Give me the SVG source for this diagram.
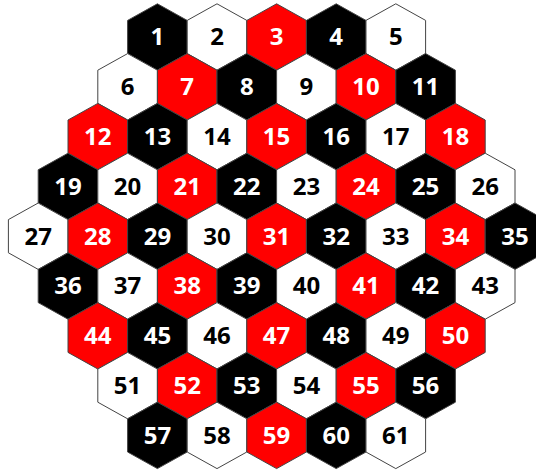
<svg xmlns="http://www.w3.org/2000/svg" xmlns:xlink="http://www.w3.org/1999/xlink" width="536" height="470" viewBox="0 0 536 470">
<defs>
<style>
.hx use{stroke:#444;stroke-width:1}
.b use{fill:#000}.r use{fill:#ff0000}.w use{fill:#fff}
text{font-family:"Open Sans","DejaVu Sans",sans-serif;font-weight:bold;font-size:24px;text-anchor:middle}
.b text,.r text{fill:#fff}.w text{fill:#000}
</style>
<polygon id="hex" points="0,-33.2 29.8,-16.6 29.8,16.6 0,33.2 -29.8,16.6 -29.8,-16.6"/>
</defs>
<rect width="536" height="470" fill="#fff"/>
<g id="connectors"/>
<g class="hx">
<g id="h1" class="b"><use href="#hex" x="157.4" y="37"/><text x="157.4" y="45.3">1</text></g>
<g id="h2" class="w"><use href="#hex" x="217" y="37"/><text x="217" y="45.3">2</text></g>
<g id="h3" class="r"><use href="#hex" x="276.6" y="37"/><text x="276.6" y="45.3">3</text></g>
<g id="h4" class="b"><use href="#hex" x="336.2" y="37"/><text x="336.2" y="45.3">4</text></g>
<g id="h5" class="w"><use href="#hex" x="395.8" y="37"/><text x="395.8" y="45.3">5</text></g>

<g id="h6" class="w"><use href="#hex" x="127.6" y="86.8"/><text x="127.6" y="95.1">6</text></g>
<g id="h7" class="r"><use href="#hex" x="187.2" y="86.8"/><text x="187.2" y="95.1">7</text></g>
<g id="h8" class="b"><use href="#hex" x="246.8" y="86.8"/><text x="246.8" y="95.1">8</text></g>
<g id="h9" class="w"><use href="#hex" x="306.4" y="86.8"/><text x="306.4" y="95.1">9</text></g>
<g id="h10" class="r"><use href="#hex" x="366" y="86.8"/><text x="366" y="95.1">10</text></g>
<g id="h11" class="b"><use href="#hex" x="425.6" y="86.8"/><text x="425.6" y="95.1">11</text></g>

<g id="h12" class="r"><use href="#hex" x="97.8" y="136.6"/><text x="97.8" y="144.9">12</text></g>
<g id="h13" class="b"><use href="#hex" x="157.4" y="136.6"/><text x="157.4" y="144.9">13</text></g>
<g id="h14" class="w"><use href="#hex" x="217" y="136.6"/><text x="217" y="144.9">14</text></g>
<g id="h15" class="r"><use href="#hex" x="276.6" y="136.6"/><text x="276.6" y="144.9">15</text></g>
<g id="h16" class="b"><use href="#hex" x="336.2" y="136.6"/><text x="336.2" y="144.9">16</text></g>
<g id="h17" class="w"><use href="#hex" x="395.8" y="136.6"/><text x="395.8" y="144.9">17</text></g>
<g id="h18" class="r"><use href="#hex" x="455.4" y="136.6"/><text x="455.4" y="144.9">18</text></g>

<g id="h19" class="b"><use href="#hex" x="68" y="186.4"/><text x="68" y="194.7">19</text></g>
<g id="h20" class="w"><use href="#hex" x="127.6" y="186.4"/><text x="127.6" y="194.7">20</text></g>
<g id="h21" class="r"><use href="#hex" x="187.2" y="186.4"/><text x="187.2" y="194.7">21</text></g>
<g id="h22" class="b"><use href="#hex" x="246.8" y="186.4"/><text x="246.8" y="194.7">22</text></g>
<g id="h23" class="w"><use href="#hex" x="306.4" y="186.4"/><text x="306.4" y="194.7">23</text></g>
<g id="h24" class="r"><use href="#hex" x="366" y="186.4"/><text x="366" y="194.7">24</text></g>
<g id="h25" class="b"><use href="#hex" x="425.6" y="186.4"/><text x="425.6" y="194.7">25</text></g>
<g id="h26" class="w"><use href="#hex" x="485.2" y="186.4"/><text x="485.2" y="194.7">26</text></g>

<g id="h27" class="w"><use href="#hex" x="38.2" y="236.2"/><text x="38.2" y="244.5">27</text></g>
<g id="h28" class="r"><use href="#hex" x="97.8" y="236.2"/><text x="97.8" y="244.5">28</text></g>
<g id="h29" class="b"><use href="#hex" x="157.4" y="236.2"/><text x="157.4" y="244.5">29</text></g>
<g id="h30" class="w"><use href="#hex" x="217" y="236.2"/><text x="217" y="244.5">30</text></g>
<g id="h31" class="r"><use href="#hex" x="276.6" y="236.2"/><text x="276.6" y="244.5">31</text></g>
<g id="h32" class="b"><use href="#hex" x="336.2" y="236.2"/><text x="336.2" y="244.5">32</text></g>
<g id="h33" class="w"><use href="#hex" x="395.8" y="236.2"/><text x="395.8" y="244.5">33</text></g>
<g id="h34" class="r"><use href="#hex" x="455.4" y="236.2"/><text x="455.4" y="244.5">34</text></g>
<g id="h35" class="b"><use href="#hex" x="515" y="236.2"/><text x="515" y="244.5">35</text></g>

<g id="h36" class="b"><use href="#hex" x="68" y="286"/><text x="68" y="294.3">36</text></g>
<g id="h37" class="w"><use href="#hex" x="127.6" y="286"/><text x="127.6" y="294.3">37</text></g>
<g id="h38" class="r"><use href="#hex" x="187.2" y="286"/><text x="187.2" y="294.3">38</text></g>
<g id="h39" class="b"><use href="#hex" x="246.8" y="286"/><text x="246.8" y="294.3">39</text></g>
<g id="h40" class="w"><use href="#hex" x="306.4" y="286"/><text x="306.4" y="294.3">40</text></g>
<g id="h41" class="r"><use href="#hex" x="366" y="286"/><text x="366" y="294.3">41</text></g>
<g id="h42" class="b"><use href="#hex" x="425.6" y="286"/><text x="425.6" y="294.3">42</text></g>
<g id="h43" class="w"><use href="#hex" x="485.2" y="286"/><text x="485.2" y="294.3">43</text></g>

<g id="h44" class="r"><use href="#hex" x="97.8" y="335.8"/><text x="97.8" y="344.1">44</text></g>
<g id="h45" class="b"><use href="#hex" x="157.4" y="335.8"/><text x="157.4" y="344.1">45</text></g>
<g id="h46" class="w"><use href="#hex" x="217" y="335.8"/><text x="217" y="344.1">46</text></g>
<g id="h47" class="r"><use href="#hex" x="276.6" y="335.8"/><text x="276.6" y="344.1">47</text></g>
<g id="h48" class="b"><use href="#hex" x="336.2" y="335.8"/><text x="336.2" y="344.1">48</text></g>
<g id="h49" class="w"><use href="#hex" x="395.8" y="335.8"/><text x="395.8" y="344.1">49</text></g>
<g id="h50" class="r"><use href="#hex" x="455.4" y="335.8"/><text x="455.4" y="344.1">50</text></g>

<g id="h51" class="w"><use href="#hex" x="127.6" y="385.6"/><text x="127.6" y="393.9">51</text></g>
<g id="h52" class="r"><use href="#hex" x="187.2" y="385.6"/><text x="187.2" y="393.9">52</text></g>
<g id="h53" class="b"><use href="#hex" x="246.8" y="385.6"/><text x="246.8" y="393.9">53</text></g>
<g id="h54" class="w"><use href="#hex" x="306.4" y="385.6"/><text x="306.4" y="393.9">54</text></g>
<g id="h55" class="r"><use href="#hex" x="366" y="385.6"/><text x="366" y="393.9">55</text></g>
<g id="h56" class="b"><use href="#hex" x="425.6" y="385.6"/><text x="425.6" y="393.9">56</text></g>

<g id="h57" class="b"><use href="#hex" x="157.4" y="435.4"/><text x="157.4" y="443.7">57</text></g>
<g id="h58" class="w"><use href="#hex" x="217" y="435.4"/><text x="217" y="443.7">58</text></g>
<g id="h59" class="r"><use href="#hex" x="276.6" y="435.4"/><text x="276.6" y="443.7">59</text></g>
<g id="h60" class="b"><use href="#hex" x="336.2" y="435.4"/><text x="336.2" y="443.7">60</text></g>
<g id="h61" class="w"><use href="#hex" x="395.8" y="435.4"/><text x="395.8" y="443.7">61</text></g>
</g>
</svg>
